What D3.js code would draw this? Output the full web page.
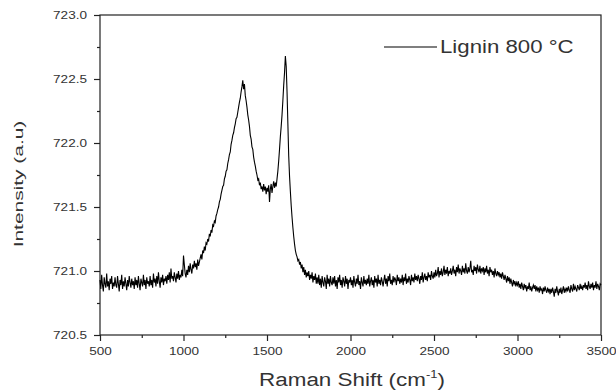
<!DOCTYPE html>
<html><head><meta charset="utf-8">
<script src="https://cdn.jsdelivr.net/npm/d3@7"></script>
<style>
html,body{margin:0;padding:0;background:#fff;}
svg{display:block;font-family:"Liberation Sans",Arial,sans-serif;}
</style></head>
<body>
<svg id="chart" width="616" height="392"></svg>
<script>
// ---- data ----
const seriesName = "Lignin 800 °C";
const shiftStart = 500;   // cm^-1, first sample
const shiftStep = 5;      // cm^-1 between samples
const intensity = [
720.93,720.86,720.97,720.89,720.84,720.95,720.90,720.87,720.98,720.88,720.92,720.85,720.94,720.90,720.96,720.86,720.91,720.88,720.95,720.89,
720.87,720.96,720.90,720.84,720.93,720.89,720.97,720.86,720.92,720.88,720.95,720.90,720.85,720.93,720.88,720.96,720.91,720.87,720.94,720.89,
720.92,720.86,720.95,720.89,720.93,720.87,720.96,720.90,720.85,720.94,720.91,720.88,720.97,720.89,720.93,720.86,720.95,720.90,720.92,720.88,
720.96,720.89,720.93,720.87,720.98,720.91,720.94,720.88,720.96,720.90,720.99,720.92,720.87,720.95,720.91,720.97,720.89,720.94,720.92,720.96,
720.90,720.97,720.93,720.99,720.91,721.02,720.94,720.96,720.92,720.99,720.95,720.91,720.98,720.94,721.00,720.93,720.97,720.95,721.01,720.96,
721.12,721.05,720.98,720.95,721.01,720.97,721.04,720.99,721.06,721.01,720.98,721.05,721.02,721.08,721.03,721.06,721.01,721.09,721.04,721.07,
721.10,721.13,721.09,721.16,721.14,721.19,721.16,721.22,721.21,721.25,721.23,721.29,721.27,721.32,721.30,721.36,721.35,721.39,721.38,721.43,
721.45,721.48,721.50,721.54,721.56,721.60,721.63,721.66,721.67,721.72,721.74,721.78,721.79,721.84,721.87,721.91,721.93,721.99,722.02,722.06,
722.08,722.12,722.15,722.19,722.20,722.24,722.28,722.32,722.35,722.40,722.44,722.49,722.42,722.46,722.37,722.33,722.28,722.22,722.18,722.13,
722.06,722.03,721.97,721.95,721.89,721.85,721.82,721.78,721.75,721.71,721.72,721.67,721.69,721.64,721.66,721.62,721.68,721.63,721.66,721.60,
721.65,721.62,721.67,721.54,721.64,721.68,721.61,721.66,721.70,721.65,721.69,721.66,721.72,721.78,721.86,721.95,722.05,722.13,722.22,722.33,
722.45,722.55,722.68,722.60,722.40,722.15,721.90,721.74,721.62,721.51,721.42,721.34,721.27,721.21,721.16,721.13,721.11,721.08,721.09,721.05,
721.07,721.02,721.05,720.99,721.03,720.97,721.01,720.95,720.99,720.96,721.00,720.93,720.97,720.94,720.99,720.91,720.96,720.93,720.98,720.90,
720.95,720.90,720.97,720.89,720.94,720.87,720.96,720.91,720.88,720.95,720.92,720.86,720.97,720.90,720.94,720.88,720.96,720.91,720.89,720.95,
720.90,720.96,720.88,720.93,720.86,720.95,720.91,720.97,720.89,720.93,720.87,720.95,720.92,720.88,720.96,720.90,720.94,720.86,720.93,720.91,
720.95,720.89,720.93,720.87,720.96,720.91,720.88,720.94,720.90,720.97,720.89,720.92,720.86,720.95,720.91,720.88,720.96,720.90,720.93,720.89,
720.94,720.90,720.97,720.88,720.92,720.95,720.89,720.93,720.87,720.96,720.91,720.94,720.88,720.97,720.90,720.93,720.89,720.95,720.92,720.88,
720.93,720.97,720.90,720.94,720.88,720.96,720.92,720.98,720.90,720.93,720.89,720.96,720.91,720.95,720.93,720.89,720.97,720.92,720.95,720.90,
720.94,720.91,720.97,720.89,720.95,720.92,720.98,720.90,720.94,720.91,720.96,720.93,720.89,720.97,720.92,720.95,720.91,720.98,720.93,720.96,
720.92,720.97,720.94,720.90,720.96,720.93,720.99,720.91,720.95,720.98,720.93,720.96,720.92,720.99,720.95,720.97,720.93,721.00,720.96,720.94,
720.99,720.95,721.01,720.96,720.98,721.03,720.95,721.00,720.97,721.02,720.96,720.99,721.04,720.97,721.01,720.98,721.03,720.96,721.00,720.98,
721.02,720.97,721.00,721.04,720.98,721.01,720.96,721.03,720.99,721.05,720.98,721.02,721.00,720.97,721.04,720.99,721.02,720.98,721.06,721.00,
720.98,721.03,720.99,721.02,721.08,720.99,721.01,720.97,721.04,721.00,721.03,720.98,721.05,721.01,720.99,721.04,720.98,721.02,721.00,721.03,
720.97,721.02,720.99,721.04,720.98,721.01,720.96,721.03,720.99,721.01,720.97,721.00,720.95,721.02,720.98,720.96,721.00,720.97,720.99,720.95,
720.98,720.94,720.99,720.96,720.93,720.97,720.94,720.91,720.96,720.92,720.95,720.90,720.94,720.91,720.88,720.93,720.90,720.92,720.88,720.91,
720.89,720.92,720.87,720.90,720.86,720.91,720.88,720.85,720.90,720.87,720.89,720.84,720.88,720.86,720.91,720.85,720.88,720.84,720.87,720.89,
720.86,720.89,720.84,720.88,720.85,720.87,720.83,720.88,720.85,720.86,720.82,720.87,720.84,720.88,720.85,720.83,720.87,720.84,720.86,720.82,
720.86,720.83,720.87,720.84,720.80,720.86,720.83,720.88,720.84,720.81,720.86,720.83,720.87,720.82,720.85,720.88,720.83,720.86,720.84,720.87,
720.84,720.88,720.85,720.83,720.89,720.86,720.84,720.90,720.85,720.88,720.86,720.84,720.89,720.87,720.85,720.90,720.86,720.88,720.85,720.89,
720.87,720.91,720.86,720.89,720.85,720.92,720.88,720.86,720.90,720.87,720.91,720.85,720.89,720.87,720.92,720.86,720.90,720.88,720.85,720.90,
720.89
];
const xTicks = [500,1000,1500,2000,2500,3000,3500];
const xMinorTicks = [750,1250,1750,2250,2750,3250];
const yTicks = [720.5,721.0,721.5,722.0,722.5,723.0];
const yMinorTicks = [720.75,721.25,721.75,722.25,722.75];
const xDomain = [500,3500];
const yDomain = [720.5,723.0];
const xTitle = "Raman Shift (cm";
const xTitleSup = "-1";
const xTitleEnd = ")";
const yTitle = "Intensity (a.u)";

// ---- layout ----
const L = 100, R = 601, T = 15, B = 335;
const svg = d3.select("#chart");
const x = d3.scaleLinear().domain(xDomain).range([L, R]);
const y = d3.scaleLinear().domain(yDomain).range([B, T]);
const txt = "#333", ax = "#222";

const data = intensity.map((v,i)=>({w: shiftStart + i*shiftStep, v}));

// frame
svg.append("rect").attr("x",L).attr("y",T).attr("width",R-L).attr("height",B-T)
  .attr("fill","none").attr("stroke",ax).attr("stroke-width",1.2);

// spectrum line
svg.append("path").datum(data)
  .attr("fill","none").attr("stroke","#000").attr("stroke-width",1.1)
  .attr("d", d3.line().x(d=>x(d.w)).y(d=>y(d.v)));

// x axis
const xa = svg.append("g").attr("transform",`translate(0,${B})`)
  .call(d3.axisBottom(x).tickValues(xTicks).tickSize(6).tickFormat(d3.format("d")));
xa.select(".domain").remove();
xa.selectAll("line").attr("stroke",ax).attr("stroke-width",1.2);
xa.selectAll("text").attr("y",20).attr("dy",0).attr("fill",txt)
  .style("font-size","10.5px").style("font-family","Liberation Sans, Arial, sans-serif")
  .attr("transform","scale(1.29,1)");
svg.append("g").attr("transform",`translate(0,${B})`)
  .call(d3.axisBottom(x).tickValues(xMinorTicks).tickSize(3).tickFormat(""))
  .call(g=>g.select(".domain").remove())
  .selectAll("line").attr("stroke",ax).attr("stroke-width",1.2);

// y axis
const ya = svg.append("g").attr("transform",`translate(${L},0)`)
  .call(d3.axisLeft(y).tickValues(yTicks).tickSize(6).tickFormat(d3.format(".1f")));
ya.select(".domain").remove();
ya.selectAll("line").attr("stroke",ax).attr("stroke-width",1.2);
ya.selectAll("text").attr("x",-10.1).attr("dy","0.35em").attr("fill",txt)
  .style("font-size","10.5px").style("font-family","Liberation Sans, Arial, sans-serif")
  .attr("transform","scale(1.29,1)");
svg.append("g").attr("transform",`translate(${L},0)`)
  .call(d3.axisLeft(y).tickValues(yMinorTicks).tickSize(3).tickFormat(""))
  .call(g=>g.select(".domain").remove())
  .selectAll("line").attr("stroke",ax).attr("stroke-width",1.2);

// x title
const xt = svg.append("g").attr("transform","translate(352,386) scale(1.18,1)")
  .append("text").attr("text-anchor","middle").attr("fill",txt).style("font-size","19px");
xt.append("tspan").text(xTitle);
xt.append("tspan").attr("dy",-8).style("font-size","11px").text(xTitleSup);
xt.append("tspan").attr("dy",8).text(xTitleEnd);

// y title
svg.append("g").attr("transform","translate(22.5,184) rotate(-90) scale(1.55,1)")
  .append("text").attr("text-anchor","middle").attr("fill",txt).style("font-size","13.5px")
  .text(yTitle);

// legend
svg.append("line").attr("x1",384).attr("x2",437).attr("y1",47).attr("y2",47)
  .attr("stroke","#000").attr("stroke-width",1.1);
svg.append("g").attr("transform","translate(440,53) scale(1.17,1)")
  .append("text").attr("fill",txt).style("font-size","19px").text(seriesName);
</script>
</body></html>
